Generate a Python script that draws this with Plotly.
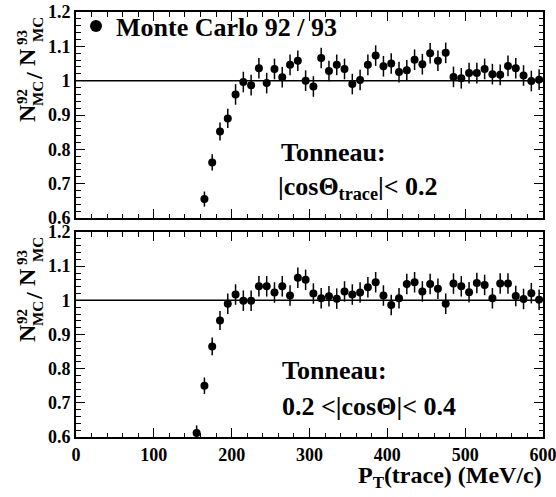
import plotly.graph_objects as go

W, H = 556, 497

# ---------------- data ----------------
pt_top = [165, 175, 185, 195, 205, 215, 225, 235, 245, 255,
          265, 275, 285, 295, 305, 315, 325, 335, 345, 355,
          365, 375, 385, 395, 405, 415, 425, 435, 445, 455,
          465, 475, 485, 495, 505, 515, 525, 535, 545, 555,
          565, 575, 585, 595]
ratio_top = [0.655, 0.762, 0.852, 0.890, 0.960, 0.996, 0.987, 1.036, 0.993, 1.034,
             1.010, 1.046, 1.058, 1.000, 0.983, 1.066, 1.028, 1.046, 1.034, 0.990,
             1.002, 1.046, 1.073, 1.042, 1.050, 1.025, 1.030, 1.061, 1.048, 1.080,
             1.058, 1.081, 1.011, 1.007, 1.022, 1.022, 1.034, 1.019, 1.017, 1.043,
             1.036, 1.015, 0.999, 1.003]
err_top = [0.022, 0.024, 0.026, 0.028, 0.030, 0.030, 0.030, 0.030, 0.030, 0.030,
           0.030, 0.030, 0.030, 0.030, 0.030, 0.030, 0.030, 0.030, 0.030, 0.030,
           0.030, 0.030, 0.030, 0.030, 0.030, 0.030, 0.030, 0.030, 0.030, 0.030,
           0.030, 0.030, 0.030, 0.030, 0.030, 0.030, 0.030, 0.030, 0.030, 0.030,
           0.030, 0.030, 0.030, 0.030]

pt_bot = [155, 165, 175, 185, 195, 205, 215, 225, 235, 245,
          255, 265, 275, 285, 295, 305, 315, 325, 335, 345,
          355, 365, 375, 385, 395, 405, 415, 425, 435, 445,
          455, 465, 475, 485, 495, 505, 515, 525, 535, 545,
          555, 565, 575, 585, 595]
ratio_bot = [0.612, 0.750, 0.865, 0.941, 0.990, 1.017, 0.999, 0.999, 1.041, 1.041,
             1.023, 1.041, 1.014, 1.066, 1.060, 1.020, 1.006, 1.012, 1.005, 1.026,
             1.017, 1.023, 1.038, 1.053, 1.014, 0.986, 1.006, 1.048, 1.053, 1.026,
             1.048, 1.034, 0.990, 1.049, 1.041, 1.024, 1.051, 1.045, 1.006, 1.049,
             1.049, 1.013, 1.004, 1.021, 1.002]
err_bot = [0.022, 0.024, 0.026, 0.028, 0.030, 0.030, 0.030, 0.030, 0.030, 0.030,
           0.030, 0.030, 0.030, 0.030, 0.030, 0.030, 0.030, 0.030, 0.030, 0.030,
           0.030, 0.030, 0.030, 0.030, 0.030, 0.030, 0.030, 0.030, 0.030, 0.030,
           0.030, 0.030, 0.030, 0.030, 0.030, 0.030, 0.030, 0.030, 0.030, 0.030,
           0.030, 0.030, 0.030, 0.030, 0.030]

x_ticks = [0, 100, 200, 300, 400, 500, 600]
x_ticktext = ["0", "100", "200", "300", "400", "500", "600"]
y_ticks = [0.6, 0.7, 0.8, 0.9, 1.0, 1.1, 1.2]
y_ticktext = ["0.6", "0.7", "0.8", "0.9", "1", "1.1", "1.2"]

legend_label = "Monte Carlo 92 / 93"
top_text = ["Tonneau:", "|cosΘ<sub>trace</sub>|< 0.2"]
bot_text = ["Tonneau:", "0.2 <|cosΘ|< 0.4"]
x_title = "P<sub>T</sub>(trace) (MeV/c)"

# ---------------- layout helpers ----------------
FONT = "'Liberation Serif', 'DejaVu Serif', serif"
def px_x(p):
    return p / W
def px_y(p):
    return 1 - p / H

x_dom = [px_x(76), px_x(543)]
top_dom = [px_y(218), px_y(12)]
bot_dom = [px_y(437), px_y(232)]

fig = go.Figure()

marker = dict(color="black", size=8, symbol="circle")
errstyle = dict(type="data", visible=True, thickness=1.5, width=0, color="black")

fig.add_trace(go.Scatter(x=pt_top, y=ratio_top, mode="markers", marker=marker,
                         error_y=dict(array=err_top, **errstyle),
                         name=legend_label, showlegend=True,
                         xaxis="x", yaxis="y"))
fig.add_trace(go.Scatter(x=pt_bot, y=ratio_bot, mode="markers", marker=marker,
                         error_y=dict(array=err_bot, **errstyle),
                         showlegend=False, xaxis="x2", yaxis="y2"))

tickfont = dict(family=FONT, size=18, color="black", weight="bold")

def xaxis(domain, anchor, labels):
    return dict(domain=domain, anchor=anchor, range=[0, 600], automargin=False,
                showline=True, linecolor="black", linewidth=2, mirror="ticks",
                ticks="inside", ticklen=9, tickwidth=1, tickcolor="black",
                tickmode="array", tickvals=x_ticks, ticktext=x_ticktext,
                showticklabels=labels, tickfont=tickfont, ticklabeloverflow="allow",
                minor=dict(dtick=20, ticks="inside", ticklen=4.5, tickwidth=1, tickcolor="black", showgrid=False),
                showgrid=False, zeroline=False)

def yaxis(domain, anchor):
    return dict(domain=domain, anchor=anchor, range=[0.6, 1.2], automargin=False,
                showline=True, linecolor="black", linewidth=2, mirror="ticks",
                ticks="inside", ticklen=9, tickwidth=1, tickcolor="black",
                tickmode="array", tickvals=y_ticks, ticktext=y_ticktext,
                tickfont=tickfont, ticklabeloverflow="allow",
                minor=dict(dtick=0.02, tick0=0.6, ticks="inside", ticklen=4.5, tickwidth=1, tickcolor="black", showgrid=False),
                showgrid=False, zeroline=False)

fig.update_layout(
    width=W, height=H,
    margin=dict(l=0, r=0, t=0, b=0, autoexpand=False),
    paper_bgcolor="white", plot_bgcolor="white",
    xaxis=xaxis(x_dom, "y", False),
    yaxis=yaxis(top_dom, "x"),
    xaxis2=xaxis(x_dom, "y2", True),
    yaxis2=yaxis(bot_dom, "x2"),
    showlegend=True,
    legend=dict(x=px_x(76), y=px_y(26), xanchor="left", yanchor="middle",
                bgcolor="rgba(0,0,0,0)", borderwidth=0,
                font=dict(family=FONT, size=26, color="black", weight="bold"),
                itemsizing="constant"),
)

# reference lines at ratio 1
for xr, yr in (("x", "y"), ("x2", "y2")):
    fig.add_shape(type="line", xref=xr, yref=yr, x0=0, x1=600, y0=1, y1=1,
                  line=dict(color="black", width=1.5))

def txt(text, x, y, size=26, xanchor="left", yanchor="middle", angle=0):
    fig.add_annotation(text=text, x=px_x(x), y=px_y(y), xref="paper", yref="paper",
                       xanchor=xanchor, yanchor=yanchor, showarrow=False, textangle=angle,
                       font=dict(family=FONT, size=size, color="black", weight="bold"))

# panel texts
txt(top_text[0], 279, 152)
txt(top_text[1], 276, 188)
txt(bot_text[0], 280, 370)
txt(bot_text[1], 280, 406)

# x-axis title
txt(x_title, 544, 477, size=24, xanchor="right")

# y-axis titles built from pieces (stacked super/subscripts)
for off in (0, 220):
    txt("N", 27, 113 + off, size=24, xanchor="center", angle=-90)
    txt("92", 22, 97 + off, size=15, xanchor="center", angle=-90)
    txt("MC", 38, 94 + off, size=15, xanchor="center", angle=-90)
    txt("/", 34, 76 + off, size=24, xanchor="center", angle=-90)
    txt("N", 27, 57 + off, size=24, xanchor="center", angle=-90)
    txt("93", 22, 38 + off, size=15, xanchor="center", angle=-90)
    txt("MC", 38, 30 + off, size=15, xanchor="center", angle=-90)

# the browser adds an 8px body margin; remove it so the figure fills the window
fig.write_html("out.html", config={"displayModeBar": False},
               post_script="document.body.style.margin='0px';")
